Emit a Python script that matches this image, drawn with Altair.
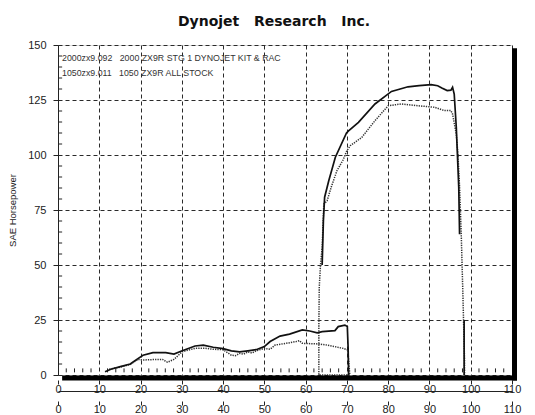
import altair as alt
import pandas as pd

# ---------------- text ----------------
title_text = "Dynojet\u00a0\u00a0 Research\u00a0\u00a0 Inc."
y_title = "SAE Horsepower"
legend_labels = ["2000zx9.092\u00a0\u00a0 2000 ZX9R STG 1 DYNOJET KIT & RAC",
                 "1050zx9.011\u00a0\u00a0 1050 ZX9R ALL STOCK"]

# ---------------- ticks ----------------
x_ticks = [0, 10, 20, 30, 40, 50, 60, 70, 80, 90, 100, 110]
y_ticks = [0, 25, 50, 75, 100, 125, 150]
y_minor = [5, 10, 15, 20, 30, 35, 40, 45, 55, 60, 65, 70, 80, 85, 90, 95,
           105, 110, 115, 120, 130, 135, 140, 145]
x_minor = [2, 4, 6, 8, 12, 14, 16, 18, 22, 24, 26, 28, 32, 34, 36, 38, 42, 44, 46, 48,
           52, 54, 56, 58, 62, 64, 66, 68, 72, 74, 76, 78, 82, 84, 86, 88, 92, 94, 96, 98,
           102, 104, 106, 108]

# ---------------- run 1 (solid) ----------------
solid_low_x = [11.4, 12.8, 15.1, 17.5, 19.0, 20.6, 23.0, 26.1, 28.1, 30.1, 33.2, 35.2, 37.6,
               40.0, 42.0, 44.0, 46.0, 48.0, 50.0, 51.4, 53.8, 56.1, 59.2, 61.0, 62.8, 64.0,
               67.1, 67.9, 69.5, 70.1, 70.3, 70.4]
solid_low_hp = [1.5, 2.6, 3.8, 5.0, 7.0, 9.0, 10.2, 10.2, 9.5, 11.0, 13.2, 13.6, 12.6,
                12.0, 11.0, 10.5, 11.0, 11.5, 12.9, 15.2, 17.7, 18.6, 20.5, 20.0, 19.2, 19.7,
                20.2, 22.0, 22.7, 22.0, 12.0, 0.0]
solid_high_x = [64.0, 64.3, 64.6, 65.6, 67.2, 69.9, 70.4, 72.8, 76.8, 80.8, 84.8, 87.5,
                90.4, 92.0, 93.0, 94.3, 95.2, 95.6, 96.0, 96.5, 97.1, 97.3]
solid_high_hp = [50.0, 70.0, 80.8, 88.3, 99.0, 110.0, 111.0, 114.8, 123.2, 128.9, 131.0, 131.5,
                 132.0, 131.5, 130.5, 129.3, 129.5, 130.8, 127.7, 112.6, 85.3, 64.0]
solid_tail_x = [98.4, 98.4]
solid_tail_hp = [25.0, 0.0]

# ---------------- run 2 (dotted) ----------------
dotted_low_x = [12.4, 15.1, 17.5, 19.4, 20.6, 23.0, 25.3, 26.5, 28.1, 30.1, 33.2, 35.5, 37.6,
                40.0, 42.0, 43.0, 44.0, 45.0, 46.0, 47.0, 48.0, 50.0, 51.4, 52.6, 55.3, 57.7,
                58.5, 59.2, 63.2, 65.2, 67.1, 69.1, 70.2, 70.5, 70.7]
dotted_low_hp = [2.6, 3.6, 4.8, 7.1, 6.8, 7.0, 7.1, 5.8, 7.1, 10.6, 12.1, 12.2, 11.7,
                 11.5, 9.0, 8.8, 9.8, 9.5, 10.5, 10.0, 11.0, 12.1, 11.7, 13.6, 14.4, 15.2,
                 15.6, 14.4, 14.1, 13.6, 12.9, 12.1, 11.4, 5.0, 0.0]
dotted_high_x = [63.2, 63.2, 63.3, 63.6, 64.0, 64.4, 65.2, 66.3, 67.6, 69.0, 70.0, 70.8, 73.6,
                 76.8, 80.0, 83.2, 87.2, 91.2, 93.6, 95.2, 95.6, 96.5, 96.9, 97.3, 97.7, 98.1,
                 98.5, 98.5]
dotted_high_hp = [0.0, 21.7, 40.0, 50.0, 58.0, 77.7, 79.2, 86.0, 92.9, 97.5, 102.0, 104.2, 108.0,
                  115.6, 122.4, 123.2, 122.4, 121.7, 120.2, 120.2, 118.6, 109.5, 100.5, 85.3, 64.0,
                  36.8, 6.5, 0.0]


def frame(parts):
    rows = []
    i = 0
    for seg, (xs, ys) in enumerate(parts):
        for xv, yv in zip(xs, ys):
            rows.append({"x": xv, "hp": yv, "seg": seg, "i": i})
            i += 1
    return pd.DataFrame(rows)


solid_df = frame([(solid_low_x, solid_low_hp), (solid_high_x, solid_high_hp),
                  (solid_tail_x, solid_tail_hp)])
dotted_df = frame([(dotted_low_x + dotted_high_x, dotted_low_hp + dotted_high_hp)])
one = pd.DataFrame({"a": [0]})
xminor_df = pd.DataFrame({"x": x_minor})
yminor_df = pd.DataFrame({"y": y_minor})
xticks_df = pd.DataFrame({"x": x_ticks})

W, H = 454, 330
INK = "#222222"
FONT = "Liberation Sans"

x_scale = alt.Scale(domain=[0, 110], nice=False, zero=False)
y_scale = alt.Scale(domain=[0, 150], nice=False)

x_axis1 = alt.Axis(values=x_ticks, orient="bottom", offset=5, tickSize=4, tickColor=INK,
                   domain=False, grid=True, gridDash=[4, 3], gridColor="#2a2a2a",
                   labelFontSize=11, labelFont=FONT, labelColor=INK, labelPadding=-1,
                   labelFlush=False, labelOverlap=False, title=None)
y_axis = alt.Axis(values=y_ticks, tickSize=5, tickColor=INK, domainColor=INK,
                  grid=True, gridDash=[4, 3], gridColor="#2a2a2a",
                  labelFontSize=11, labelFont=FONT, labelColor=INK, labelPadding=7,
                  title=y_title, titleFont=FONT, titleFontSize=9.5, titleFontWeight="normal",
                  titleColor=INK, titlePadding=10)
x_axis2 = alt.Axis(values=x_ticks, orient="bottom", offset=16, domain=True, domainColor=INK,
                   tickSize=14, tickColor=INK, tickDash=[0, 10, 4, 20], grid=False,
                   labelFontSize=11, labelFont=FONT, labelColor=INK, labelPadding=-2,
                   labelFlush=False, labelOverlap=False, title=None)

X = lambda f: alt.X(f, type="quantitative", scale=x_scale, axis=x_axis1)
Y = lambda f: alt.Y(f, type="quantitative", scale=y_scale, axis=y_axis)

dotted = alt.Chart(dotted_df).mark_line(color="#333333", strokeWidth=1.5,
                                         strokeDash=[1.3, 1.1]).encode(
    x=X("x"), y=Y("hp"), detail="seg:N", order="i:Q")
solid = alt.Chart(solid_df).mark_line(color="#111111", strokeWidth=1.7).encode(
    x=X("x"), y=Y("hp"), detail="seg:N", order="i:Q")

y_minor_ticks = alt.Chart(yminor_df).mark_rule(color=INK, strokeWidth=1).encode(
    y=Y("y"),
    x=alt.X(datum=0, scale=x_scale, axis=x_axis1),
    x2=alt.X2(datum=1))
x_minor_ticks = alt.Chart(xminor_df).mark_rule(color=INK, strokeWidth=1).encode(
    x=X("x"),
    y=alt.Y(datum=1.2, scale=y_scale, axis=y_axis),
    y2=alt.Y2(datum=3))

right_bar = alt.Chart(one).mark_rule(color="black", strokeWidth=5, xOffset=2.5, y2Offset=5.5).encode(
    x=alt.X(datum=110, scale=x_scale, axis=x_axis1),
    y=alt.Y(datum=148.5, scale=y_scale, axis=y_axis),
    y2=alt.Y2(datum=0))
bottom_bar = alt.Chart(one).mark_rule(color="black", strokeWidth=5, yOffset=3, x2Offset=5).encode(
    x=alt.X(datum=1, scale=x_scale, axis=x_axis1),
    x2=alt.X2(datum=110),
    y=alt.Y(datum=0, scale=y_scale, axis=y_axis))

legend1 = alt.Chart(one).mark_text(align="left", baseline="middle", fontSize=8.8, font=FONT,
                                   color="#333333").encode(
    x=alt.value(4), y=alt.value(13), text=alt.value(legend_labels[0]))
legend2 = alt.Chart(one).mark_text(align="left", baseline="middle", fontSize=8.8, font=FONT,
                                   color="#333333").encode(
    x=alt.value(4), y=alt.value(28), text=alt.value(legend_labels[1]))

inner = alt.layer(y_minor_ticks, x_minor_ticks, dotted, solid, right_bar, bottom_bar,
                  legend1, legend2)

axis2_layer = alt.Chart(xticks_df).mark_point(opacity=0).encode(
    x=alt.X("x:Q", scale=x_scale, axis=x_axis2))

chart = alt.layer(inner, axis2_layer).resolve_scale(x="independent").properties(
    width=W, height=H,
    title=alt.TitleParams(title_text, font="DejaVu Sans", fontSize=14, fontWeight="bold",
                          color="#111111", anchor="middle", dx=-11, offset=10),
    autosize=alt.AutoSizeParams(type="none"),
    padding={"left": 50, "top": 37, "right": 15, "bottom": 40},
).configure_view(stroke=INK, strokeWidth=1).configure(background="white")

chart.save("out.html", embed_options={"renderer": "svg", "actions": False})
